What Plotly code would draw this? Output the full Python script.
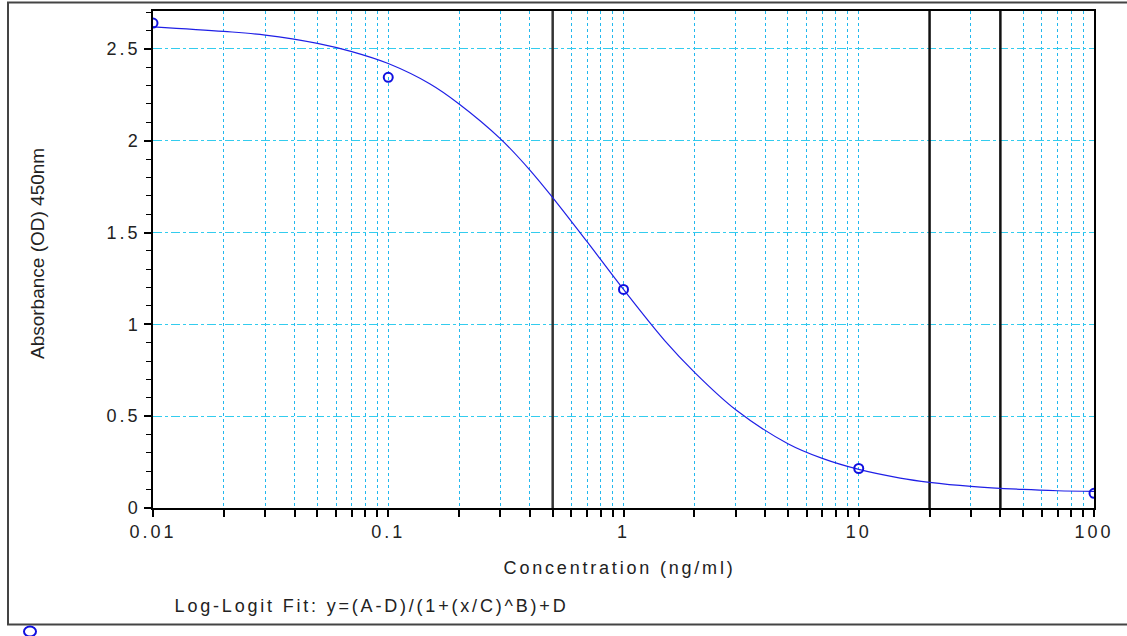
import plotly.graph_objects as go

# Measured standards
conc = [0.01, 0.1, 1, 10, 100]
absorb = [2.64, 2.345, 1.19, 0.215, 0.08]

# Fitted curve
fit_x = [0.01, 0.02, 0.03, 0.05, 0.07, 0.1, 0.15, 0.2, 0.3, 0.4, 0.5, 0.7, 1,
         1.5, 2, 3, 5, 7, 10, 15, 20, 30, 50, 70, 100]
fit_y = [2.62, 2.595, 2.575, 2.53, 2.485, 2.42, 2.31, 2.20, 2.01, 1.84, 1.69, 1.45, 1.19,
         0.91, 0.74, 0.535, 0.35, 0.27, 0.21, 0.163, 0.14, 0.118, 0.101, 0.094, 0.09]

# Reference vertical lines
ref_lines = [0.5, 20, 40]

# Axis ticks
x_tickvals = [m * 10 ** e for e in range(-2, 2) for m in range(1, 10)] + [100]
x_major = {0.01: "0.01", 0.1: "0.1", 1: "1", 10: "10", 100: "100"}
y_tickvals = [0, 0.5, 1, 1.5, 2, 2.5]
y_ticktext = ["0", "0.5", "1", "1.5", "2", "2.5"]

y_max = 2.706
FONT = "Liberation Sans, Arial, sans-serif"

fig = go.Figure()

for i, v in enumerate(ref_lines):
    fig.add_trace(go.Scatter(x=[v, v], y=[0, y_max], mode="lines",
                             line=dict(color="#333333" if i == 0 else "#111111", width=2.5),
                             hoverinfo="skip", showlegend=False))

fig.add_trace(go.Scatter(x=fit_x, y=fit_y, mode="lines",
                         line=dict(color="#1f1fe6", width=1.2, shape="spline"),
                         showlegend=False))
fig.add_trace(go.Scatter(x=conc, y=absorb, mode="markers",
                         marker=dict(symbol="circle-open", size=9, color="#1010e0",
                                     line=dict(width=2, color="#1010e0")),
                         showlegend=False))

l, r, t, b = 153, 33, 9, 128
W, H = 1127, 636
pw, ph = W - l - r, H - t - b

def px(x):
    return (x - l) / pw

def py(y):
    return (H - b - y) / ph

fig.update_layout(
    width=W, height=H,
    margin=dict(l=l, r=r, t=t, b=b),
    paper_bgcolor="white", plot_bgcolor="white",
    font=dict(family=FONT, size=18, color="#222222"),
    xaxis=dict(type="log", range=[-2, 2],
               tickvals=x_tickvals,
               ticktext=[x_major.get(round(v, 6), "") for v in x_tickvals],
               ticks="outside", ticklen=7, tickwidth=1.5, tickcolor="black",
               showgrid=True, gridcolor="#22b8ee", griddash="dot", gridwidth=1.3,
               showline=True, mirror=True, linecolor="black", linewidth=1.5,
               zeroline=False, tickfont=dict(size=18)),
    yaxis=dict(range=[0, y_max], tickvals=y_tickvals, ticktext=y_ticktext,
               ticks="outside", ticklen=7, tickwidth=1.5, tickcolor="black",
               minor=dict(dtick=0.1, tick0=0, ticks="outside", ticklen=5,
                          tickcolor="black", tickwidth=1.2, showgrid=False),
               showgrid=True, gridcolor="#33ccee", griddash="dashdot", gridwidth=1.2,
               showline=True, mirror=True, linecolor="black", linewidth=1.5,
               zeroline=False, tickfont=dict(size=18)),
    annotations=[
        dict(text="Concentration (ng/ml)", xref="paper", yref="paper",
             x=px(619), y=py(568), showarrow=False, xanchor="center", yanchor="middle",
             font=dict(size=18)),
        dict(text="Absorbance (OD) 450nm", xref="paper", yref="paper",
             x=px(37), y=py(253), showarrow=False, textangle=-90,
             xanchor="center", yanchor="middle", font=dict(size=19)),
        dict(text="Log-Logit Fit: y=(A-D)/(1+(x/C)^B)+D", xref="paper", yref="paper",
             x=px(371), y=py(606), showarrow=False, xanchor="center", yanchor="middle",
             font=dict(size=18)),
    ],
    shapes=[
        dict(type="rect", xref="paper", yref="paper",
             x0=px(8), x1=px(1135), y0=py(625), y1=py(0.5),
             line=dict(color="#444444", width=2)),
        dict(type="circle", xref="paper", yref="paper",
             x0=px(24), x1=px(36), y0=py(637), y1=py(627),
             line=dict(color="#1010e0", width=2)),
    ],
)

post = """
document.body.style.margin = '0';
document.querySelectorAll('.xtick text, .ytick text').forEach(function(e){ e.style.letterSpacing = '3px'; });
document.querySelectorAll('.annotation-text').forEach(function(e){
  if (e.textContent.indexOf('Absorbance') !== 0) { e.style.letterSpacing = '2.8px'; }
});
"""

fig.write_html("out.html", post_script=post, config={"displayModeBar": False})
